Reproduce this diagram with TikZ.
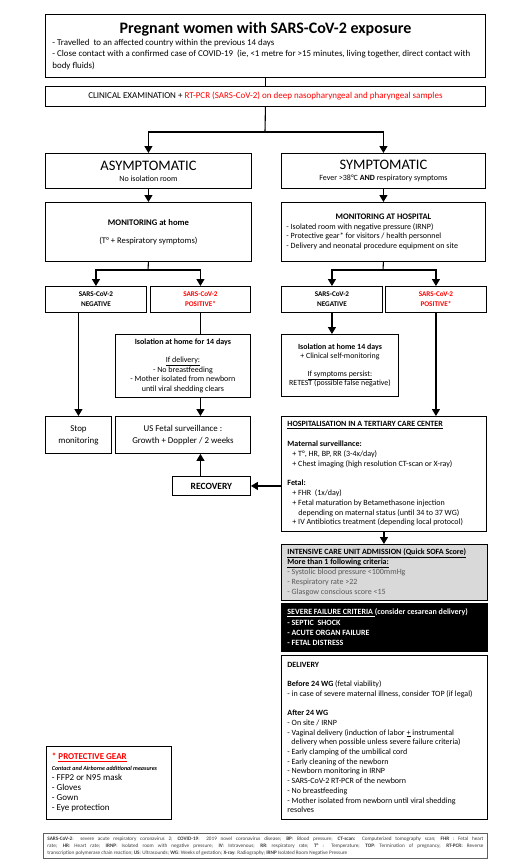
\documentclass[tikz,border=0pt]{standalone}
\usepackage{fontspec}
\setmainfont{Carlito}
\usetikzlibrary{arrows.meta}
\definecolor{pcr}{RGB}{255,0,0}
\definecolor{icufill}{RGB}{217,217,217}
\definecolor{greytxt}{RGB}{89,89,89}
\definecolor{abbrtxt}{RGB}{60,60,60}
\newcommand\fsz[2]{\fontsize{#1}{#2}\selectfont}
\begin{document}
\begin{tikzpicture}[x=1pt,y=-1pt,
  box/.style={draw, line width=0.9pt, inner sep=0pt, anchor=north west},
  ln/.style={line width=1.1pt},
  arr/.style={ln, -{Triangle[width=8pt,length=7pt]}}]
\fill[white] (0,0) rectangle (508,868);
\useasboundingbox (0,0) rectangle (508,868);

% --- boxes ---
\node[box, minimum width=440pt, minimum height=63pt, text width=426pt, align=flush left, font=\fsz{8.9}{11.6}] (title) at (45,14)
{{\centering\fsz{16}{19}\bfseries Pregnant women with SARS-CoV-2 exposure\par}
- Travelled\ \ to an affected country within the previous 14 days\\
- Close contact with a confirmed case of COVID-19\ \ (ie, <1 metre for >15 minutes, living together, direct contact with\\
body fluids)};

\node[box, minimum width=440pt, minimum height=20pt, font=\fsz{9}{11}] (clin) at (45,86)
{CLINICAL EXAMINATION + \textcolor{pcr}{RT-PCR (SARS-CoV-2) on deep nasopharyngeal and pharyngeal samples}};

\node[box, minimum width=206pt, minimum height=35pt, align=center, font=\fsz{8}{10}] (asym) at (45,153)
{\fsz{14.5}{15}ASYMPTOMATIC\\[1pt]No isolation room};
\node[box, minimum width=204pt, minimum height=35pt, align=center, font=\fsz{8}{10}] (sym) at (281,153)
{\fsz{14.5}{15}SYMPTOMATIC\\[1pt]Fever >38°C \textbf{AND} respiratory symptoms};

\node[box, minimum width=206pt, minimum height=59pt, align=center, font=\fsz{8.6}{10}] (monH) at (45,202)
{\textbf{MONITORING at home}\\[8pt](T° + Respiratory symptoms)};
\node[box, minimum width=204pt, minimum height=59pt, text width=194pt, align=flush left, font=\fsz{8}{9.8}] (monHosp) at (281,202)
{{\centering\fsz{8.5}{13}\textbf{MONITORING AT HOSPITAL}\par}
- Isolated room with negative pressure (IRNP)\\
- Protective gear* for visitors / health personnel\\
- Delivery and neonatal procedure equipment on site};

\node[box, minimum width=101pt, minimum height=26pt, align=center, font=\fsz{7.2}{10}\bfseries] (negL) at (45,286)
{SARS-CoV-2\\NEGATIVE};
\node[box, minimum width=100pt, minimum height=26pt, align=center, text=pcr, font=\fsz{7.2}{10}\bfseries] (posL) at (150,286)
{SARS-CoV-2\\POSITIVE*};
\node[box, minimum width=101pt, minimum height=26pt, align=center, font=\fsz{7.2}{10}\bfseries] (negR) at (281,286)
{SARS-CoV-2\\NEGATIVE};
\node[box, minimum width=101pt, minimum height=26pt, align=center, text=pcr, font=\fsz{7.2}{10}\bfseries] (posR) at (385,286)
{SARS-CoV-2\\POSITIVE*};

\node[box, minimum width=135pt, minimum height=63pt, align=center, font=\fsz{8}{9.6}] (isoL) at (115,334)
{\textbf{Isolation at home for 14 days}\\[8.5pt]\underline{If delivery:}\\- No breastfeeding\\- Mother isolated from newborn\\until viral shedding clears};
\node[box, minimum width=117pt, minimum height=62pt, align=center, font=\fsz{7.9}{9.6}] (isoR) at (281,334)
{\textbf{Isolation at home 14 days}\\+ Clinical self-monitoring\\[8pt]\underline{If symptoms persist:}\\RETEST (possible false negative)};

\node[box, minimum width=66pt, minimum height=37pt, align=center, font=\fsz{8.9}{12}] (stop) at (45,416)
{Stop\\monitoring};
\node[box, minimum width=135pt, minimum height=37pt, align=center, font=\fsz{8.9}{12}] (usf) at (115,416)
{US Fetal surveillance :\\Growth + Doppler / 2 weeks};
\node[box, minimum width=78pt, minimum height=19pt, font=\fsz{9.5}{11}\bfseries] (recov) at (172,476)
{RECOVERY};

\node[box, minimum width=205pt, minimum height=115pt, text width=193pt, align=flush left, font=\fsz{8}{9.8}] (hosp) at (281,416)
{\underline{\textbf{HOSPITALISATION IN A TERTIARY CARE CENTER}}\\[9.8pt]
\textbf{Maternal surveillance:}\\
\hspace*{5pt}+ T°, HR, BP, RR (3-4x/day)\\
\hspace*{5pt}+ Chest imaging (high resolution CT-scan or X-ray)\\[9.8pt]
\textbf{Fetal:}\\
\hspace*{5pt}+ FHR\ \ (1x/day)\\
\hspace*{5pt}+ Fetal maturation by Betamethasone injection\\
\hspace*{11pt}depending on maternal status (until 34 to 37 WG)\\
\hspace*{5pt}+ IV Antibiotics treatment (depending local protocol)};

\node[box, fill=icufill, minimum width=206pt, minimum height=56pt, text width=194pt, align=flush left, font=\fsz{8}{10}] (icu) at (281,544)
{\underline{\textbf{INTENSIVE CARE UNIT ADMISSION (Quick SOFA Score)}}\\
\underline{\textbf{More than 1 following criteria:}}\\
\textcolor{greytxt}{- Systolic blood pressure <100mmHg}\\
\textcolor{greytxt}{- Respiratory rate >22}\\
\textcolor{greytxt}{- Glasgow conscious score <15}};

\node[box, fill=black, text=white, minimum width=206pt, minimum height=48pt, text width=194pt, align=flush left, font=\fsz{8}{10.3}\bfseries] (severe) at (281,603)
{\underline{SEVERE FAILURE CRITERIA }(consider cesarean delivery)\\
- SEPTIC\ \ SHOCK\\
- ACUTE ORGAN FAILURE\\
- FETAL DISTRESS};

\node[box, minimum width=206pt, minimum height=164pt, text width=194pt, align=flush left, font=\fsz{8}{9.7}] (deliv) at (281,655)
{\textbf{DELIVERY}\\[9.7pt]
\textbf{Before 24 WG} (fetal viability)\\
- in case of severe maternal illness, consider TOP (if legal)\\[9.7pt]
\textbf{After 24 WG}\\
- On site / IRNP\\
- Vaginal delivery (induction of labor \underline{+} instrumental\\
\hspace*{4pt}delivery when possible unless severe failure criteria)\\
- Early clamping of the umbilical cord\\
- Early cleaning of the newborn\\
- Newborn monitoring in IRNP\\
- SARS-CoV-2 RT-PCR of the newborn\\
- No breastfeeding\\
- Mother isolated from newborn until viral shedding\\
resolves};

\node[box, minimum width=125pt, minimum height=73pt, text width=114pt, align=flush left, font=\fsz{9}{10.2}] (prot) at (46,746)
{\textcolor{pcr}{\textbf{* \underline{PROTECTIVE GEAR}}}\\
{\fsz{6}{10.2}\textbf{\textit{Contact and Airborne additional measures}}}\\
- FFP2 or N95 mask\\
- Gloves\\
- Gown\\
- Eye protection};

\node[box, draw=gray!75!black, minimum width=444pt, minimum height=25pt, text width=436pt, align=justify, text=abbrtxt, font=\fsz{5.2}{7.2}] (abbr) at (43,833)
{\textbf{SARS-CoV-2}: severe acute respiratory coronavirus 2; \textbf{COVID-19}: 2019 novel coronavirus disease; \textbf{BP}: Blood pressure; \textbf{CT-scan:} Computerized tomography scan; \textbf{FHR} : Fetal heart\linebreak rate; \textbf{HR}: Heart rate; \textbf{IRNP}: Isolated room with negative pressure; \textbf{IV}: Intravenous; \textbf{RR}: respiratory rate; \textbf{T°} : Temperature; \textbf{TOP}: Termination of pregnancy; \textbf{RT-PCR:} Reverse\linebreak transcription polymerase chain reaction; \textbf{US}: Ultrasounds; \textbf{WG}: Weeks of gestation; \textbf{X-ray}: Radiography; \textbf{IRNP} Isolated Room Negative Pressure};

% --- connectors ---
\coordinate (s1) at (265,132);
\coordinate (s2) at (148,270);
\coordinate (s3) at (383,270);
\draw[ln] (title.south) -- (clin.north);
\draw[ln] (clin.south) -- (s1);
\draw[arr] (s1) -| (asym.north);
\draw[arr] (s1) -| (sym.north);
\draw[arr] (asym.south) -- (monH.north);
\draw[arr] (sym.south) -- (monHosp.north);
\draw[ln] (monH.south) -- (s2);
\draw[arr] (s2) -| (negL.north);
\draw[arr] (s2) -| (posL.north);
\draw[ln] (monHosp.south) -- (s3);
\draw[arr] (s3) -| (negR.north);
\draw[arr] (s3) -| (posR.north);
\draw[arr] (negL.south -| stop.north) -- (stop.north);
\draw[ln] (posL.south) -- (posL.south |- isoL.north);
\draw[arr] (posL.south |- isoL.south) -- (posL.south |- usf.north);
\draw[arr] (negR.south) -- (negR.south |- isoR.north);
\draw[arr] (posR.south) -- (posR.south |- hosp.north);
\draw[arr] (hosp.west |- recov.east) -- (recov.east);
\draw[arr] (recov.north -| posL.south) -- (usf.south -| posL.south);
\draw[arr] (hosp.south) -- (hosp.south |- icu.north);
\end{tikzpicture}
\end{document}
